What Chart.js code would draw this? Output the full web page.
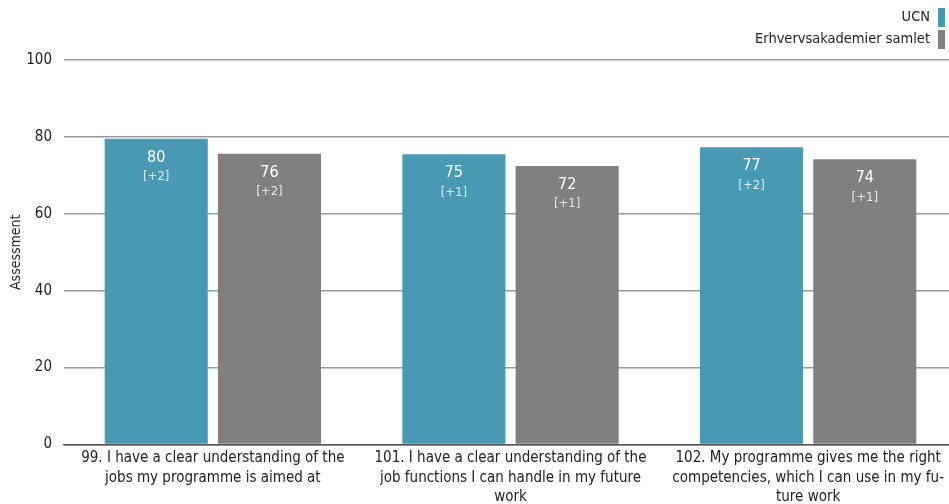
<!DOCTYPE html>
<html>
<head>
<meta charset="utf-8">
<script src="https://cdn.jsdelivr.net/npm/chart.js@4/dist/chart.umd.min.js"></script>
<style>
html,body{margin:0;padding:0;background:#fff;overflow:hidden;}
#wrap{width:957px;height:504px;position:relative;}
</style>
</head>
<body>
<div id="wrap"><canvas id="c"></canvas></div>
<script>
const categories = [
  ["99. I have a clear understanding of the", "jobs my programme is aimed at"],
  ["101. I have a clear understanding of the", "job functions I can handle in my future", "work"],
  ["102. My programme gives me the right", "competencies, which I can use in my fu-", "ture work"]
];
const seriesNames = ["UCN", "Erhvervsakademier samlet"];
const ucnValues = [79.5, 75.5, 77.3];
const totalValues = [75.6, 72.4, 74.2];
const ucnLabels = ["80", "75", "77"];
const totalLabels = ["76", "72", "74"];
const ucnDelta = ["[+2]", "[+1]", "[+2]"];
const totalDelta = ["[+2]", "[+1]", "[+1]"];
const yTicks = [0, 20, 40, 60, 80, 100];

const FONT = '"DejaVu Sans Condensed", "DejaVu Sans", sans-serif';
const BLUE = '#4899b4';
const GRAY = '#808080';

const valueLabelPlugin = {
  id: 'valueLabels',
  afterDatasetsDraw(chart) {
    const ctx = chart.ctx;
    const lbls = [ucnLabels, totalLabels];
    const dels = [ucnDelta, totalDelta];
    chart.data.datasets.forEach((ds, di) => {
      const meta = chart.getDatasetMeta(di);
      meta.data.forEach((el, i) => {
        ctx.save();
        ctx.textAlign = 'center';
        ctx.textBaseline = 'middle';
        ctx.fillStyle = '#ffffff';
        ctx.font = '16px ' + FONT;
        ctx.fillText(lbls[di][i], el.x, el.y + 19);
        ctx.fillStyle = 'rgba(255,255,255,0.8)';
        ctx.font = '13px ' + FONT;
        ctx.fillText(dels[di][i], el.x, el.y + 38);
        ctx.restore();
      });
    });
  }
};

const legendPlugin = {
  id: 'customLegend',
  afterDraw(chart) {
    const ctx = chart.ctx;
    const rightX = 945;
    chart.data.datasets.forEach((ds, i) => {
      const y = 17 + i * 22;
      ctx.save();
      ctx.fillStyle = ds.backgroundColor;
      ctx.fillRect(rightX - 7, y - 9, 7, 19);
      ctx.fillStyle = '#222';
      ctx.font = '14.5px ' + FONT;
      ctx.textAlign = 'right';
      ctx.textBaseline = 'middle';
      ctx.fillText(ds.label, rightX - 15, y);
      ctx.restore();
    });
  }
};

new Chart(document.getElementById('c'), {
  type: 'bar',
  data: {
    labels: categories,
    datasets: [
      { label: seriesNames[0], data: ucnValues, backgroundColor: BLUE, categoryPercentage: 0.761, barPercentage: 0.91 },
      { label: seriesNames[1], data: totalValues, backgroundColor: GRAY, categoryPercentage: 0.761, barPercentage: 0.91 }
    ]
  },
  options: {
    responsive: true,
    maintainAspectRatio: false,
    animation: false,
    layout: { padding: { top: 60, right: 0, bottom: -7, left: 0 } },
    plugins: {
      legend: { display: false },
      tooltip: { enabled: false }
    },
    scales: {
      x: {
        grid: { display: false, drawTicks: false },
        border: { display: true, color: '#555555', width: 1.5 },
        ticks: {
          color: '#222',
          font: { family: FONT, size: 15, lineHeight: 1.3 },
          padding: 4,
          maxRotation: 0,
          autoSkip: false
        }
      },
      y: {
        min: 0,
        max: 100,
        afterBuildTicks(axis) { axis.ticks = yTicks.map(v => ({ value: v })); },
        grid: { color: '#9a9a9a', lineWidth: 1.5, drawTicks: false },
        border: { display: false },
        ticks: {
          color: '#222',
          font: { family: FONT, size: 15 },
          padding: 12
        },
        title: {
          display: true,
          text: 'Assessment',
          color: '#222',
          font: { family: FONT, size: 14 },
          padding: { top: 8, bottom: 4 }
        },
        afterFit(axis) { axis.width = 64; }
      }
    }
  },
  plugins: [valueLabelPlugin, legendPlugin]
});
</script>
</body>
</html>
